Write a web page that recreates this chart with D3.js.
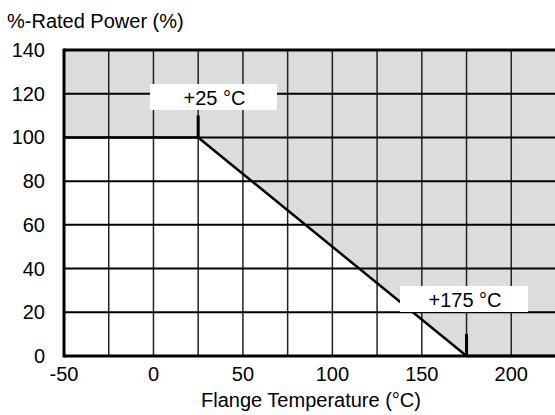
<!DOCTYPE html>
<html>
<head>
<meta charset="utf-8">
<script src="https://cdn.jsdelivr.net/npm/d3@7"></script>
<style>
  body { margin: 0; background: white; }
  text { font-family: "Liberation Sans", Arial, sans-serif; fill: black; }
</style>
</head>
<body>
<svg id="chart" width="555" height="415"></svg>
<script>
// derating curve (temperature °C, % rated power)
const curveTemp = [-50, 25, 175, 225];
const curvePower = [100, 100, 0, 0];
const xTicks = [-50, 0, 50, 100, 150, 200];
const xGrid = [-25, 0, 25, 50, 75, 100, 125, 150, 175, 200];
const yTicks = [0, 20, 40, 60, 80, 100, 120, 140];
const callouts = [{ t: 25, p: 100, label: "+25 °C" }, { t: 175, p: 0, label: "+175 °C" }];

const svg = d3.select("#chart");
const x = d3.scaleLinear().domain([-50, 225]).range([64, 556]);
const y = d3.scaleLinear().domain([0, 140]).range([356, 50]);

const pts = curveTemp.map((t, i) => [t, curvePower[i]]);

// gray region above curve
const area = d3.area().x(d => x(d[0])).y0(y(140)).y1(d => y(d[1]));
svg.append("path").datum(pts).attr("d", area).attr("fill", "#dcdcdc");

// grid
svg.selectAll("line.vg").data(xGrid).join("line")
  .attr("x1", d => x(d)).attr("x2", d => x(d))
  .attr("y1", y(140)).attr("y2", y(0))
  .attr("stroke", "#222").attr("stroke-width", 1.5);
svg.selectAll("line.hg").data(yTicks.filter(d => d > 0 && d < 140)).join("line")
  .attr("x1", x(-50)).attr("x2", 556)
  .attr("y1", d => y(d)).attr("y2", d => y(d))
  .attr("stroke", "black").attr("stroke-width", 2);

// frame
svg.append("line").attr("x1", x(-50)).attr("x2", 556).attr("y1", y(140)).attr("y2", y(140))
  .attr("stroke", "black").attr("stroke-width", 3);
svg.append("line").attr("x1", x(-50)).attr("x2", x(-50)).attr("y1", y(140) - 1.5).attr("y2", y(0) + 1.5)
  .attr("stroke", "black").attr("stroke-width", 3);
svg.append("line").attr("x1", x(-50)).attr("x2", 556).attr("y1", y(0)).attr("y2", y(0))
  .attr("stroke", "black").attr("stroke-width", 3);

// curve
const line = d3.line().x(d => x(d[0])).y(d => y(d[1]));
svg.append("path").datum(pts).attr("d", line)
  .attr("fill", "none").attr("stroke", "black").attr("stroke-width", 2.5);

// callouts
const boxes = [{ x0: 150, x1: 277, y0: 84, y1: 110 }, { x0: 400, x1: 528, y0: 286, y1: 312 }];
callouts.forEach((c, i) => {
  const b = boxes[i];
  svg.append("line").attr("x1", x(c.t)).attr("x2", x(c.t))
    .attr("y1", y(c.p) - 22).attr("y2", y(c.p))
    .attr("stroke", "black").attr("stroke-width", 3);
  svg.append("rect").attr("x", b.x0).attr("y", b.y0)
    .attr("width", b.x1 - b.x0).attr("height", b.y1 - b.y0).attr("fill", "white");
  svg.append("text").attr("x", (b.x0 + b.x1) / 2 + 1).attr("y", b.y1 - 5)
    .attr("text-anchor", "middle").attr("font-size", 20).text(c.label);
});

// axis labels
svg.selectAll("text.yt").data(yTicks).join("text")
  .attr("x", 45).attr("y", d => y(d) + 7)
  .attr("text-anchor", "end").attr("font-size", 20).text(d => d);
svg.selectAll("text.xt").data(xTicks).join("text")
  .attr("x", d => x(d)).attr("y", 381)
  .attr("text-anchor", "middle").attr("font-size", 20).text(d => d);

svg.append("text").attr("x", 7).attr("y", 28).attr("font-size", 20).text("%-Rated Power (%)");
svg.append("text").attr("x", 311).attr("y", 407).attr("text-anchor", "middle")
  .attr("font-size", 20).text("Flange Temperature (°C)");
</script>
</body>
</html>
